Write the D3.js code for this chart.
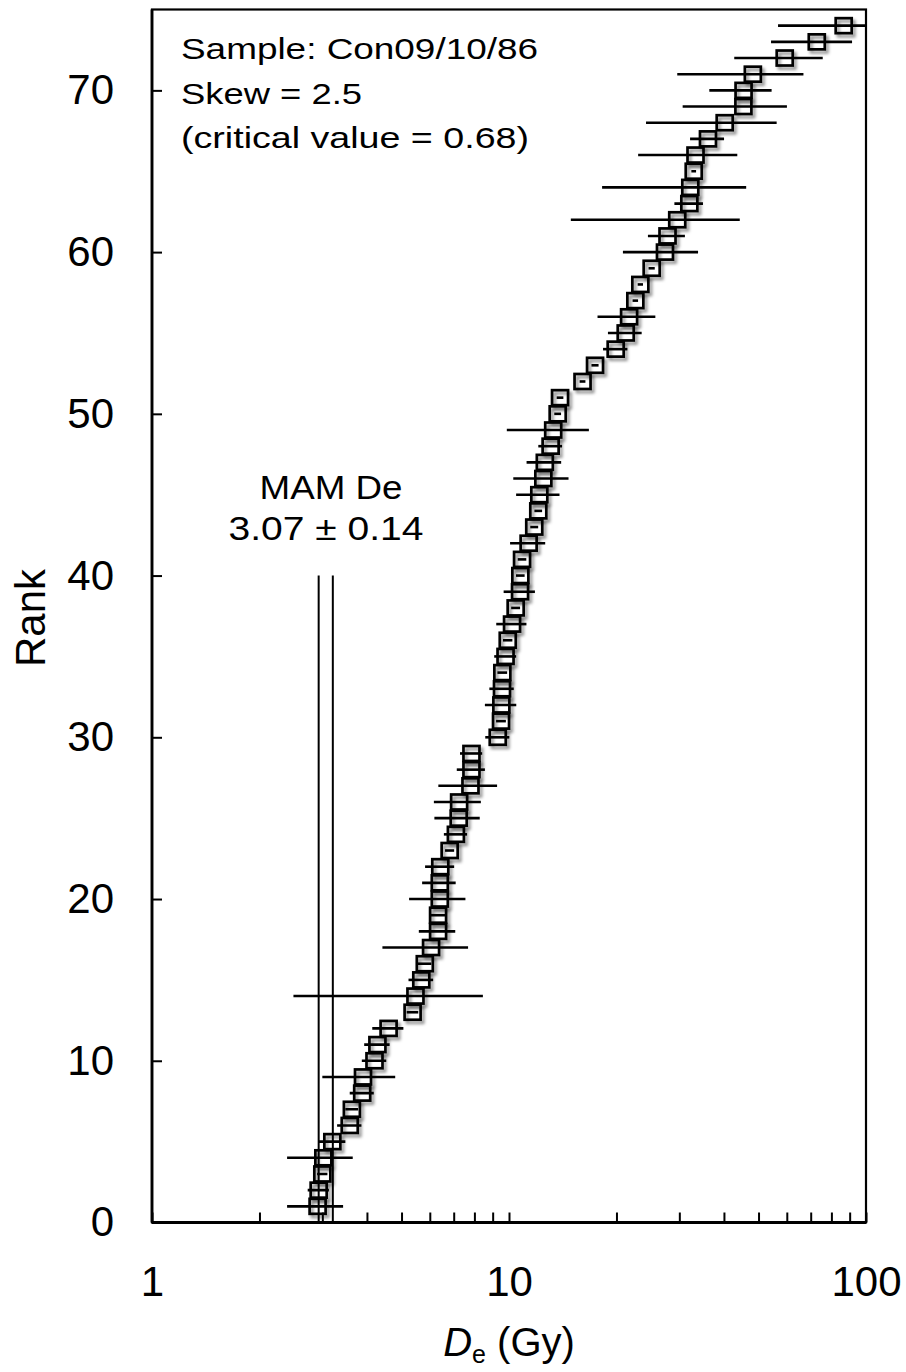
<!DOCTYPE html>
<html>
<head>
<meta charset="utf-8">
<script src="https://cdn.jsdelivr.net/npm/d3@7/dist/d3.min.js"></script>
<style>
  html, body { margin: 0; padding: 0; background: #fff; }
  svg { display: block; }
  text { font-family: "Liberation Sans", Arial, Helvetica, sans-serif; fill: #000; }
</style>
</head>
<body>
<svg id="chart" width="906" height="1372"></svg>
<script>
// ---- data (rank = index + 1) ----
const ranks = d3.range(1, 75);
const deValues = [2.91, 2.93, 3.00, 3.02, 3.20, 3.58, 3.63, 3.88, 3.90, 4.20,
  4.28, 4.60, 5.37, 5.47, 5.68, 5.81, 6.05, 6.33, 6.33, 6.40,
  6.40, 6.42, 6.82, 7.10, 7.23, 7.25, 7.80, 7.85, 7.85, 9.30,
  9.50, 9.52, 9.56, 9.58, 9.78, 9.92, 10.2, 10.44, 10.74, 10.76,
  10.88, 11.35, 11.77, 12.08, 12.16, 12.48, 12.6, 13.08, 13.3, 13.69,
  13.9, 16.07, 17.42, 19.9, 21.23, 21.7, 22.59, 23.33, 25.1, 27.35,
  27.8, 29.6, 32.0, 32.2, 32.92, 33.3, 36.09, 40.2, 45.35, 45.4,
  48.2, 59.2, 72.8, 86.6];
const deErrors = [0.52, 0.2, 0.1, 0.63, 0.28, 0.28, 0.15, 0.30, 0.90, 0.33,
  0.35, 0.46, 0.2, 2.98, 0.45, 0.25, 1.63, 0.74, 0.3, 1.15,
  0.69, 0.6, 0.2, 0.53, 1.05, 1.09, 1.46, 0.71, 0.56, 0.72,
  0.3, 0.96, 0.75, 0.3, 0.69, 0.3, 0.99, 0.3, 1.08, 0.3,
  0.3, 1.28, 0.3, 0.3, 1.69, 2.2, 1.4, 1.0, 3.44, 0.3,
  0.3, 0.3, 0.4, 1.56, 2.3, 4.0, 0.4, 0.4, 0.5, 6.5,
  3.3, 14.7, 2.94, 13.97, 0.5, 10.3, 3.94, 16.0, 14.7, 9.0,
  18.6, 16.45, 18.6, 29.9];
const xTickValues = [1, 2, 3, 4, 5, 6, 7, 8, 9, 10, 20, 30, 40, 50, 60, 70, 80, 90, 100];
const xTickLabels = [1, 10, 100];
const yTickValues = [0, 10, 20, 30, 40, 50, 60, 70];
const mamValue = 3.07;
const mamError = 0.14;
const mamTopRank = 40;
const annotationLines = ["Sample: Con09/10/86", "Skew = 2.5", "(critical value = 0.68)"];
const mamLines = ["MAM De", "3.07 \u00B1 0.14"];

const data = ranks.map((r, i) => ({ rank: r, de: deValues[i], err: deErrors[i] }));

// ---- layout ----
const svg = d3.select("#chart");
const L = 152, R = 866, T = 9.5, B = 1222.5;
const x = d3.scaleLog().domain([1, 100]).range([L, R]);
const y = d3.scaleLinear().domain([0, 75]).range([B, T]);

const defs = svg.append("defs");
defs.append("clipPath").attr("id", "plotclip")
  .append("rect").attr("x", L).attr("y", T).attr("width", R - L).attr("height", B - T);
const f = defs.append("filter").attr("id", "shadow")
  .attr("x", "-50%").attr("y", "-50%").attr("width", "200%").attr("height", "200%");
f.append("feDropShadow").attr("dx", 2.5).attr("dy", 3).attr("stdDeviation", 1.8)
  .attr("flood-color", "#000").attr("flood-opacity", 0.45);

// axes
const xAxis = d3.axisBottom(x).tickValues(xTickValues)
  .tickSizeInner(-10).tickSizeOuter(0).tickPadding(44)
  .tickFormat(d => xTickLabels.includes(d) ? String(d) : "");
const gx = svg.append("g").attr("transform", `translate(0,${B})`).call(xAxis);
gx.select(".domain").remove();
gx.selectAll(".tick line").attr("stroke", "#000").attr("stroke-width", 2);
gx.selectAll(".tick text").attr("font-size", 42)
  .style("font-family", '"Liberation Sans", Arial, sans-serif');

const yAxis = d3.axisLeft(y).tickValues(yTickValues)
  .tickSizeInner(-10).tickSizeOuter(0).tickPadding(38)
  .tickFormat(d3.format("d"));
const gy = svg.append("g").attr("transform", `translate(${L},0)`).call(yAxis);
gy.select(".domain").remove();
gy.selectAll(".tick line").attr("stroke", "#000").attr("stroke-width", 2);
gy.selectAll(".tick text").attr("font-size", 42)
  .style("font-family", '"Liberation Sans", Arial, sans-serif');

// frame
svg.append("rect").attr("x", L).attr("y", T).attr("width", R - L).attr("height", B - T)
  .attr("fill", "none").attr("stroke", "#000").attr("stroke-width", 2.2);
// thicker left & bottom axis lines
svg.append("line").attr("x1", L).attr("x2", L).attr("y1", T).attr("y2", B)
  .attr("stroke", "#000").attr("stroke-width", 2.8);
svg.append("line").attr("x1", L).attr("x2", R).attr("y1", B).attr("y2", B)
  .attr("stroke", "#000").attr("stroke-width", 2.8);

// MAM lines
const plot = svg.append("g").attr("clip-path", "url(#plotclip)");
[mamValue - mamError, mamValue + mamError].forEach(v => {
  plot.append("line").attr("x1", x(v)).attr("x2", x(v))
    .attr("y1", y(0)).attr("y2", y(mamTopRank))
    .attr("stroke", "#000").attr("stroke-width", 2);
});

// error bars
plot.selectAll("line.err").data(data).enter().append("line").attr("class", "err")
  .attr("x1", d => x(Math.max(1, d.de - d.err)))
  .attr("x2", d => x(Math.min(100, d.de + d.err)))
  .attr("y1", d => y(d.rank)).attr("y2", d => y(d.rank))
  .attr("stroke", "#000").attr("stroke-width", 2.6);

// squares
const sw = 16, sh = 15;
plot.selectAll("rect.pt").data(data).enter().append("rect").attr("class", "pt")
  .attr("x", d => x(d.de) - sw / 2).attr("y", d => y(d.rank) - sh / 2)
  .attr("width", sw).attr("height", sh)
  .attr("fill", "none").attr("stroke", "#000").attr("stroke-width", 2.7)
  .attr("filter", "url(#shadow)");

// annotation text
const annW = [357, 181, 348];
annotationLines.forEach((t, i) => {
  svg.append("text").attr("x", 181).attr("y", 59 + i * 44.5)
    .attr("font-size", 30).attr("textLength", annW[i]).attr("lengthAdjust", "spacingAndGlyphs")
    .text(t);
});
const mamW = [143, 195], mamX = [331, 326], mamY = [499, 540];
mamLines.forEach((t, i) => {
  svg.append("text").attr("x", mamX[i] - mamW[i] / 2).attr("y", mamY[i])
    .attr("font-size", 34).attr("textLength", mamW[i]).attr("lengthAdjust", "spacingAndGlyphs")
    .text(t);
});

// axis titles
svg.append("text").attr("transform", "translate(45,618) rotate(-90)")
  .attr("text-anchor", "middle").attr("font-size", 42).text("Rank");
const xt = svg.append("text").attr("x", x(10)).attr("y", 1356)
  .attr("text-anchor", "middle").attr("font-size", 40);
xt.append("tspan").attr("font-style", "italic").text("D");
xt.append("tspan").attr("font-size", 25).attr("dy", 7).text("e");
xt.append("tspan").attr("dy", -7).text(" (Gy)");
</script>
</body>
</html>
